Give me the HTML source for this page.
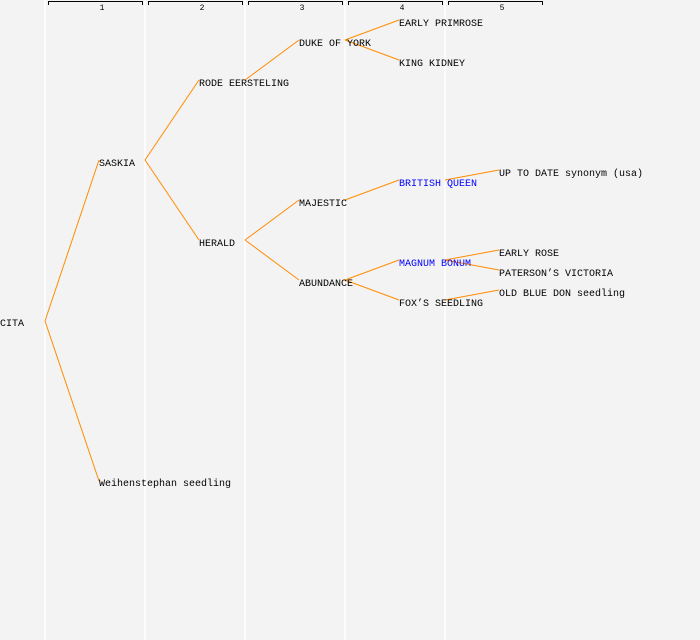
<!DOCTYPE html>
<html><head><style>body{margin:0;background:#f3f3f3}svg{display:block}</style></head><body>
<svg width="700" height="640" xmlns="http://www.w3.org/2000/svg" font-family="Liberation Mono, monospace" font-size="10">
<rect width="700" height="640" fill="#f3f3f3"/>
<g stroke="#fff" stroke-width="1.5">
<line x1="45" y1="0" x2="45" y2="640"/><line x1="145" y1="0" x2="145" y2="640"/><line x1="245" y1="0" x2="245" y2="640"/><line x1="345" y1="0" x2="345" y2="640"/><line x1="445" y1="0" x2="445" y2="640"/>
</g>
<g stroke="#000" fill="none" stroke-width="1">
<path d="M48.5 5V1.5H142.5V5"/><path d="M148.5 5V1.5H242.5V5"/><path d="M248.5 5V1.5H342.5V5"/><path d="M348.5 5V1.5H442.5V5"/><path d="M448.5 5V1.5H542.5V5"/>
</g>
<g font-size="8" text-anchor="middle"><text x="102" y="10">1</text><text x="202" y="10">2</text><text x="302" y="10">3</text><text x="402" y="10">4</text><text x="502" y="10">5</text></g>
<g stroke="#ff8c00" stroke-width="1" fill="none">
<line x1="45" y1="321" x2="99" y2="160"/><line x1="45" y1="321" x2="99" y2="481"/>
<line x1="145" y1="160" x2="199" y2="80"/><line x1="145" y1="160" x2="199" y2="240"/>
<line x1="245" y1="80" x2="299" y2="40"/>
<line x1="345" y1="40" x2="399" y2="20"/><line x1="345" y1="40" x2="399" y2="60"/>
<line x1="245" y1="240" x2="299" y2="200"/><line x1="245" y1="240" x2="299" y2="280"/>
<line x1="345" y1="200" x2="399" y2="180"/><line x1="445" y1="180" x2="499" y2="170"/>
<line x1="345" y1="280" x2="399" y2="260"/><line x1="345" y1="280" x2="399" y2="300"/>
<line x1="445" y1="260" x2="499" y2="250"/><line x1="445" y1="260" x2="499" y2="270"/>
<line x1="445" y1="300" x2="499" y2="290"/>
</g>
<g fill="#000">
<text x="0" y="326">CITA</text>
<text x="99" y="166">SASKIA</text>
<text x="99" y="486">Weihenstephan seedling</text>
<text x="199" y="86">RODE EERSTELING</text>
<text x="199" y="246">HERALD</text>
<text x="299" y="46">DUKE OF YORK</text>
<text x="299" y="206">MAJESTIC</text>
<text x="299" y="286">ABUNDANCE</text>
<text x="399" y="26">EARLY PRIMROSE</text>
<text x="399" y="66">KING KIDNEY</text>
<text x="399" y="186" fill="#0000ff">BRITISH QUEEN</text>
<text x="399" y="266" fill="#0000ff">MAGNUM BONUM</text>
<text x="399" y="306">FOX’S SEEDLING</text>
<text x="499" y="176">UP TO DATE synonym (usa)</text>
<text x="499" y="256">EARLY ROSE</text>
<text x="499" y="276">PATERSON’S VICTORIA</text>
<text x="499" y="296">OLD BLUE DON seedling</text>
</g>
</svg>
</body></html>
